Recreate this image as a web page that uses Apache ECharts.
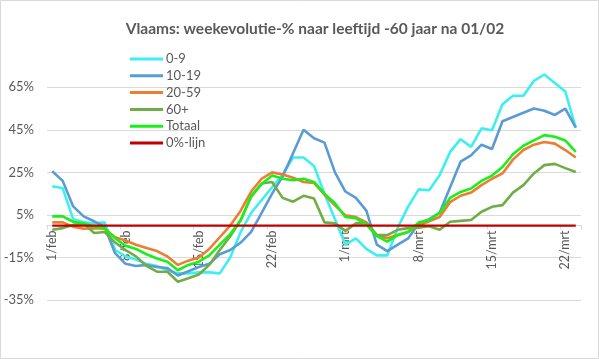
<!DOCTYPE html>
<html>
<head>
<meta charset="utf-8">
<script src="https://cdn.jsdelivr.net/npm/echarts@6/dist/echarts.min.js"></script>
<style>
html,body{margin:0;padding:0;background:#fff;}
#c{width:599px;height:359px;}
</style>
</head>
<body>
<div id="c"></div>
<script>
var categories = [
 '1/feb','2/feb','3/feb','4/feb','5/feb','6/feb','7/feb','8/feb','9/feb','10/feb',
 '11/feb','12/feb','13/feb','14/feb','15/feb','16/feb','17/feb','18/feb','19/feb','20/feb',
 '21/feb','22/feb','23/feb','24/feb','25/feb','26/feb','27/feb','28/feb',
 '1/mrt','2/mrt','3/mrt','4/mrt','5/mrt','6/mrt','7/mrt','8/mrt','9/mrt','10/mrt',
 '11/mrt','12/mrt','13/mrt','14/mrt','15/mrt','16/mrt','17/mrt','18/mrt','19/mrt','20/mrt',
 '21/mrt','22/mrt','23/mrt'
];
var age0_9 = [18.5,17.5,3,1.7,1,1.5,-11.5,-14.5,-16,-18,-19,-21,-22.5,-22.5,-22,-22,-22.5,-15,-3,6,
 12,18,24,32,32,28,15,3,-9,-6,-11,-14,-14,-1,9,17,16.6,23.7,34.6,40.6,
 37,45.7,44.8,57,61,61,68,71,67,63,46];
var age10_19 = [25.5,21,9,4.3,2,-0.5,-13,-18,-19,-18.5,-19.5,-20,-23.5,-21.5,-19.5,-18,-13.5,-11.5,-8,-3,
 6,15,23,34,45,41,39,25,16,13,7,-9,-12,-9,-6,1,3,6,18,30,
 33,38,36,49,51,53,55,54,52,55,46];
var age20_59 = [1.5,1.5,-0.5,-1.5,-1.2,-1.5,-5.5,-7,-9,-10.5,-12,-14.5,-18.5,-16.5,-15,-11,-5.5,0,7,16,
 22,25,24,22.5,20.5,20,14.5,9.5,4.8,4,1.5,-4.5,-6,-4.5,-3,0,2,4,11,14,
 15.5,19,22,24.5,31,35.5,38,39.3,38.5,35.5,32];
var age60plus = [-2,-1.2,0.3,1,-3.5,-3,-8,-11.5,-14.5,-19,-21.7,-21.7,-26.4,-24.8,-23,-18.5,-11.5,-5,2.6,13.5,
 19.8,20.5,13,11.2,14,12.7,1.5,1,-2.5,1,1,-4.5,-4.5,-2,-1.2,-1,-0.3,-2,1.8,2.2,
 2.6,6.5,8.8,9.6,15.5,19,24.5,28.4,29,27,25.2];
var totaal = [4.3,4.3,1.8,1,-0.5,-1.2,-6,-9.5,-11,-13.5,-15.5,-17,-21,-18.5,-17,-14,-9,-4,2.5,14,
 19.5,23.5,22,21.3,22,20.5,15,10.5,4,3.4,0.5,-5,-7.6,-4.5,-3,1.5,2.5,6,13,15.8,
 17.4,21,23.5,27.5,33.5,37.5,40,42.5,41.7,40,34.6];
var nulLijn = categories.map(function(){ return 0; });

var seriesNames = ['0-9','10-19','20-59','60+','Totaal','0%-lijn'];
var seriesData = [age0_9, age10_19, age20_59, age60plus, totaal, nulLijn];
var seriesColors = ['#3df0f0','#5b9bd5','#ed7d31','#70ad47','#19f019','#c00000'];
var seriesWidths = [2.6,2.6,2.6,2.6,2.6,2.2];

var FONT = 'Lato, "Liberation Sans", sans-serif';
var chart = echarts.init(document.getElementById('c'), null, {renderer:'canvas'});
chart.setOption({
  animation: false,
  backgroundColor: '#fff',
  title: {
    text: 'Vlaams: weekevolutie-% naar leeftijd -60 jaar na 01/02',
    left: 310, textAlign: 'center', top: 16,
    textStyle: {fontFamily: FONT, fontSize: 15.5, fontWeight: 'bold', color: '#595959'}
  },
  legend: {
    orient: 'vertical', left: 125, top: 47,
    icon: 'rect', itemWidth: 33, itemHeight: 3, itemGap: 2.8,
    textStyle: {fontFamily: FONT, fontSize: 13, lineHeight: 14, color: '#595959', padding: [0,0,0,-2]},
    data: seriesNames
  },
  grid: {left: 47, right: 18, top: 66, bottom: 59, containLabel: false},
  xAxis: {
    type: 'category', data: categories, boundaryGap: true, position: 'bottom', offset: -74.5,
    axisLine: {onZero: false, lineStyle: {color: '#d9d9d9', width: 1}},
    axisTick: {show: true, interval: 6, length: 4, lineStyle: {color: '#d9d9d9'}},
    axisLabel: {interval: 6, rotate: 90, margin: 5, fontFamily: FONT, fontSize: 12.5, color: '#595959'},
    splitLine: {show: false}
  },
  yAxis: {
    type: 'value', min: -35, max: 75, interval: 20,
    axisLine: {show: false}, axisTick: {show: false},
    axisLabel: {formatter: '{value}%', margin: 13, showMaxLabel: false, fontFamily: FONT, fontSize: 13, color: '#595959'},
    splitLine: {show: true, showMaxLine: false, lineStyle: {color: '#d9d9d9', width: 1}}
  },
  graphic: [{
    type: 'rect', shape: {x: 0.5, y: 0.5, width: 598, height: 358},
    style: {fill: 'none', stroke: '#d9d9d9', lineWidth: 1}, silent: true
  }],
  series: seriesNames.map(function(n, i){
    return {
      name: n, type: 'line', data: seriesData[i], symbol: 'none', showSymbol: false,
      smooth: false, color: seriesColors[i],
      lineStyle: {width: seriesWidths[i], color: seriesColors[i]},
      z: 2 + i
    };
  })
});
</script>
</body>
</html>
